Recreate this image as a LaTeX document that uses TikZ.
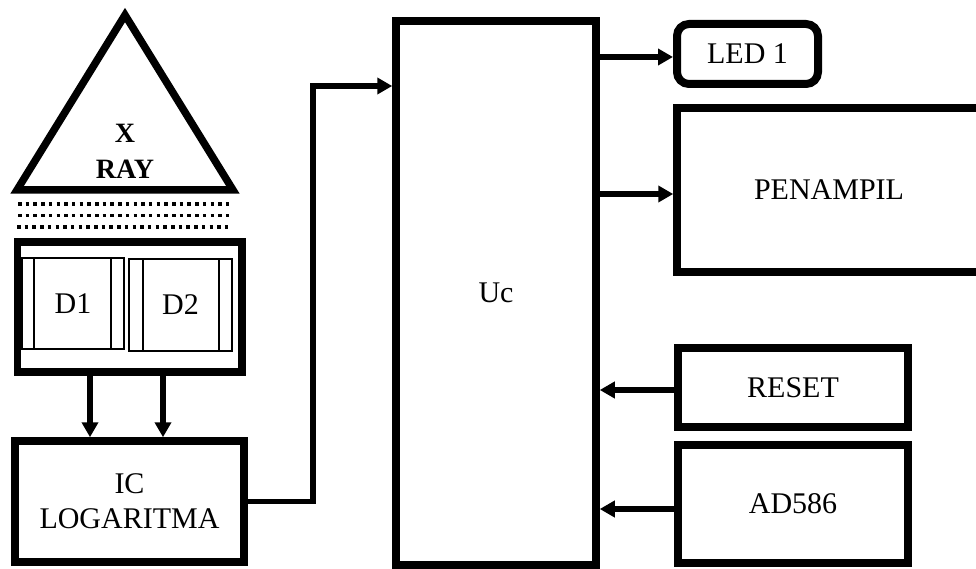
\documentclass[tikz,border=0pt]{standalone}
\usepackage{fontspec}
\setmainfont{Liberation Serif}
\usetikzlibrary{arrows.meta}
\begin{document}
\begin{tikzpicture}[x=1pt,y=-1pt,
  txt/.style={font=\fontsize{30}{35}\selectfont, align=center},
  bbox/.style={draw, line width=7.5pt, inner sep=0pt, txt},
  thinbox/.style={draw, line width=2pt, inner sep=0pt, txt},
  conn/.style={line width=5.5pt, -{Triangle[length=15pt,width=16pt]}},
  dotrow/.style={line width=3.5pt, dash pattern=on 3.5pt off 4.2pt}
]
\useasboundingbox (0,0) rectangle (976,569);
\clip (0,0) rectangle (976,569);
\fill[white] (0,0) rectangle (976,569);

% X-ray source
\draw[line width=7.5pt] (125,15) -- (233,190) -- (17,190) -- cycle;
\node[txt, font=\bfseries\fontsize{28}{36}\selectfont] (xray) at (125,151) {X\\RAY};

% dotted rows
\draw[dotrow] (18,204) -- (233,204);
\draw[dotrow] (18,215.5) -- (233,215.5);
\draw[dotrow] (17,227) -- (231,227);

% detector box
\node[bbox, minimum width=224.5pt, minimum height=130pt] (dbox) at (129.75,307) {};
\node[thinbox, minimum width=102pt, minimum height=91pt] (d1) at (73,303.5) {D1};
\node[thinbox, minimum width=103pt, minimum height=92pt] (d2) at (180.5,305) {D2};
\draw[line width=2pt] (34,258) -- (34,349) (111,258) -- (111,349);
\draw[line width=2pt] (143,259) -- (143,351) (219,259) -- (219,351);

% IC logaritma
\node[bbox, minimum width=229pt, minimum height=121pt] (ic) at (129.5,501.5) {IC\\LOGARITMA};

\coordinate (ax1) at (90,0);
\coordinate (ax2) at (163,0);
\draw[conn] (dbox.south -| ax1) -- (ic.north -| ax1);
\draw[conn] (dbox.south -| ax2) -- (ic.north -| ax2);

% microcontroller
\node[bbox, minimum width=200pt, minimum height=543.5pt] (uc) at (496,293) {Uc};

\coordinate (j) at (313,86);
\draw[conn] (ic.east) -| (j) -- (j -| uc.west);

% outputs
\node[bbox, line width=8pt, rounded corners=12pt, minimum width=141pt, minimum height=60pt] (led) at (747.5,54) {LED 1};
\node[bbox, minimum width=304pt, minimum height=164pt] (pen) at (829,190) {PENAMPIL};
\coordinate (ledy) at (0,57);
\coordinate (peny) at (0,194);
\draw[conn] (uc.east |- ledy) -- (led.west |- ledy);
\draw[conn] (uc.east |- peny) -- (pen.west |- peny);

% inputs
\node[bbox, minimum width=230pt, minimum height=79pt] (reset) at (793,387.5) {RESET};
\node[bbox, minimum width=230pt, minimum height=118pt] (ad) at (793,504) {AD586};
\coordinate (resy) at (0,390);
\coordinate (ady) at (0,509);
\draw[conn] (reset.west |- resy) -- (uc.east |- resy);
\draw[conn] (ad.west |- ady) -- (uc.east |- ady);
\end{tikzpicture}
\end{document}
